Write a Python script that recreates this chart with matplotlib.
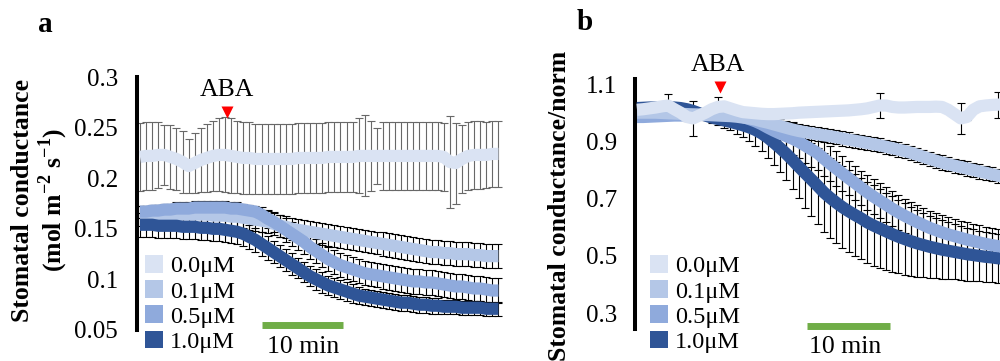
import matplotlib
matplotlib.use('Agg')
import matplotlib.pyplot as plt
import numpy as np
from matplotlib.patches import Patch

plt.rcParams['font.family'] = ['Liberation Serif', 'DejaVu Serif']
plt.rcParams['mathtext.fontset'] = 'custom'
plt.rcParams['mathtext.rm'] = 'Liberation Serif'
plt.rcParams['mathtext.bf'] = 'Liberation Serif:bold'

# ---------------- data ----------------
labels = ['0.0\u03bcM', '0.1\u03bcM', '0.5\u03bcM', '1.0\u03bcM']
colors = ['#DAE3F3', '#B4C7E7', '#8FAADC', '#2F5597']
time_min = np.arange(60) * 0.75   # minutes

# panel a : absolute stomatal conductance (mol m-2 s-1)
a_mean_00 = [.221, .222, .222, .223, .223, .221, .219, .216, .212, .215,
             .218, .220, .222, .223, .223, .222, .221, .220, .220, .219,
             .219, .219, .219, .219, .219, .219, .220, .220, .220, .220,
             .220, .221, .221, .221, .221, .221, .222, .222, .222, .222,
             .222, .222, .222, .222, .222, .222, .222, .222, .222, .222,
             .221, .216, .215, .219, .222, .223, .223, .223, .224, .224]
a_err_00 = [.034, .034, .034, .033, .030, .032, .031, .031, .027, .030,
            .032, .034, .035, .036, .037, .037, .036, .036, .036, .035,
            .035, .035, .035, .035, .035, .035, .035, .035, .035, .035,
            .035, .035, .035, .035, .035, .035, .037, .040, .035, .028,
            .034, .034, .034, .034, .034, .034, .034, .034, .034, .034,
            .034, .045, .040, .034, .034, .034, .034, .033, .033, .033]
a_mean_01 = [.163, .163, .163, .164, .164, .164, .164, .164, .164, .164,
             .164, .164, .163, .163, .163, .162, .162, .161, .160, .159,
             .158, .157, .155, .153, .152, .150, .149, .148, .147, .146,
             .145, .144, .143, .142, .141, .140, .139, .138, .137, .136,
             .135, .134, .133, .132, .131, .130, .129, .128, .127, .127,
             .126, .126, .125, .125, .125, .124, .124, .123, .123, .123]
a_err_01 = [.010, .010, .010, .010, .010, .010, .010, .010, .010, .010,
            .010, .010, .010, .010, .010, .010, .010, .010, .011, .011,
            .011, .011, .011, .011, .011, .011, .011, .011, .011, .011,
            .011, .011, .011, .011, .011, .011, .011, .011, .011, .011,
            .012, .012, .012, .012, .012, .012, .012, .012, .012, .012,
            .012, .012, .012, .012, .012, .012, .012, .012, .012, .012]
a_mean_05 = [.167, .167, .168, .168, .169, .169, .170, .170, .170, .171,
             .171, .171, .171, .171, .171, .170, .170, .169, .168, .167,
             .164, .160, .157, .153, .149, .145, .141, .137, .132, .128,
             .124, .120, .117, .114, .112, .110, .108, .106, .105, .104,
             .103, .102, .101, .100, .099, .098, .098, .097, .097, .096,
             .095, .094, .093, .093, .092, .091, .091, .090, .089, .089]
a_err_05 = [.006, .006, .006, .006, .006, .006, .006, .006, .006, .006,
            .006, .006, .006, .006, .006, .006, .006, .006, .006, .006,
            .008, .009, .010, .011, .012, .012, .012, .012, .012, .012,
            .012, .012, .012, .012, .012, .012, .012, .012, .012, .012,
            .012, .012, .012, .012, .012, .012, .012, .012, .012, .012,
            .012, .012, .012, .012, .012, .012, .012, .012, .012, .012]
a_mean_10 = [.154, .154, .154, .153, .153, .153, .153, .152, .152, .152,
             .151, .151, .150, .150, .149, .148, .147, .145, .142, .139,
             .135, .131, .127, .123, .119, .115, .111, .107, .103, .100,
             .097, .094, .092, .090, .088, .086, .084, .083, .082, .081,
             .080, .079, .078, .077, .077, .076, .075, .075, .074, .074,
             .073, .073, .073, .072, .072, .072, .072, .071, .071, .071]
a_err_10 = [.012, .012, .012, .012, .012, .012, .012, .012, .012, .012,
            .012, .012, .012, .012, .012, .012, .012, .012, .012, .012,
            .012, .012, .011, .011, .011, .011, .010, .010, .010, .010,
            .010, .009, .009, .009, .009, .009, .008, .008, .008, .008,
            .008, .008, .008, .008, .008, .008, .008, .008, .008, .008,
            .007, .007, .007, .007, .007, .007, .007, .007, .007, .007]

# panel b : normalised stomatal conductance
b_mean_00 = [1.010, 1.012, 1.015, 1.018, 1.022, 1.025, 1.012, 1.000, 0.985, 0.980,
             0.990, 1.000, 1.012, 1.020, 1.022, 1.015, 1.008, 1.002, 1.000, 0.998,
             0.996, 0.995, 0.995, 0.996, 0.997, 0.998, 1.000, 1.001, 1.002, 1.003,
             1.004, 1.005, 1.006, 1.007, 1.008, 1.010, 1.012, 1.015, 1.020, 1.025,
             1.025, 1.020, 1.018, 1.018, 1.019, 1.020, 1.020, 1.020, 1.021, 1.020,
             1.010, 0.995, 0.980, 0.985, 1.010, 1.022, 1.025, 1.027, 1.028, 1.030]
b_err_00 = [.008, .008, .008, .008, .010, .040, .010, .010, .015, .060,
            .010, .010, .010, .035, .010, .008, .008, .008, .008, .008,
            .008, .008, .008, .008, .008, .008, .008, .008, .008, .008,
            .008, .008, .008, .008, .008, .008, .008, .008, .010, .045,
            .008, .008, .008, .008, .008, .008, .008, .008, .008, .008,
            .008, .010, .055, .010, .008, .008, .008, .008, .045, .008]
b_mean_01 = [1.000, 1.000, 1.000, 1.000, 0.999, 0.998, 0.997, 0.996, 0.995, 0.994,
             0.993, 0.992, 0.991, 0.990, 0.989, 0.988, 0.986, 0.983, 0.980, 0.976,
             0.970, 0.965, 0.959, 0.953, 0.947, 0.941, 0.936, 0.932, 0.928, 0.925,
             0.921, 0.918, 0.914, 0.910, 0.906, 0.902, 0.898, 0.894, 0.890, 0.886,
             0.881, 0.876, 0.871, 0.866, 0.860, 0.853, 0.846, 0.839, 0.832, 0.826,
             0.820, 0.815, 0.810, 0.805, 0.800, 0.795, 0.790, 0.785, 0.780, 0.775]
b_err_01 = [.008, .008, .008, .008, .008, .008, .008, .008, .008, .008,
            .008, .008, .008, .008, .010, .012, .015, .018, .020, .022,
            .025, .025, .025, .025, .025, .025, .025, .025, .025, .025,
            .025, .025, .025, .025, .025, .025, .025, .025, .025, .025,
            .025, .025, .025, .025, .025, .025, .025, .025, .025, .025,
            .025, .025, .025, .025, .025, .025, .025, .025, .025, .025]
b_mean_05 = [0.985, 0.985, 0.986, 0.987, 0.988, 0.989, 0.990, 0.990, 0.991, 0.992,
             0.993, 0.994, 0.995, 0.995, 0.994, 0.992, 0.989, 0.985, 0.978, 0.970,
             0.960, 0.948, 0.937, 0.927, 0.918, 0.909, 0.898, 0.885, 0.872, 0.859,
             0.840, 0.822, 0.805, 0.788, 0.771, 0.755, 0.738, 0.722, 0.707, 0.693,
             0.679, 0.665, 0.652, 0.640, 0.629, 0.618, 0.608, 0.598, 0.590, 0.582,
             0.575, 0.569, 0.563, 0.557, 0.552, 0.547, 0.542, 0.538, 0.534, 0.531]
b_err_05 = [.010, .010, .010, .010, .010, .010, .010, .010, .010, .010,
            .010, .010, .010, .010, .010, .010, .015, .020, .025, .030,
            .035, .040, .045, .050, .050, .055, .055, .060, .060, .060,
            .060, .060, .060, .060, .060, .060, .060, .060, .060, .060,
            .060, .060, .060, .060, .060, .060, .060, .060, .060, .060,
            .060, .060, .060, .060, .060, .060, .060, .060, .060, .060]
b_mean_10 = [1.016, 1.017, 1.018, 1.018, 1.019, 1.019, 1.018, 1.016, 1.012, 1.006,
             0.998, 0.990, 0.983, 0.978, 0.973, 0.968, 0.962, 0.956, 0.949, 0.940,
             0.928, 0.913, 0.895, 0.876, 0.856, 0.834, 0.811, 0.789, 0.767, 0.745,
             0.722, 0.703, 0.686, 0.670, 0.656, 0.643, 0.631, 0.617, 0.606, 0.596,
             0.586, 0.576, 0.567, 0.559, 0.551, 0.544, 0.538, 0.532, 0.527, 0.522,
             0.518, 0.514, 0.510, 0.506, 0.503, 0.500, 0.497, 0.495, 0.492, 0.490]
b_err_10 = [.012, .012, .012, .012, .012, .012, .012, .012, .012, .012,
            .015, .015, .018, .020, .025, .030, .035, .040, .048, .055,
            .062, .070, .077, .083, .090, .100, .110, .120, .128, .133,
            .137, .140, .142, .143, .143, .143, .142, .141, .140, .138,
            .135, .132, .128, .124, .120, .116, .112, .108, .105, .102,
            .099, .096, .094, .092, .090, .088, .087, .086, .085, .084]

a_ticks = [0.05, 0.1, 0.15, 0.2, 0.25, 0.3]
a_ticklabels = ['0.05', '0.1', '0.15', '0.2', '0.25', '0.3']
b_ticks = [0.3, 0.5, 0.7, 0.9, 1.1]
b_ticklabels = ['0.3', '0.5', '0.7', '0.9', '1.1']

aba_time_a, aba_time_b = 10.8, 10.0
scale_a = (15.06, 25.06)
scale_b = (20.48, 30.48)

# ---------------- figure ----------------
W, H = 1000, 361
fig = plt.figure(figsize=(W / 100, H / 100), dpi=100)


def fx(px):
    return px / W


def fy(py):
    return 1 - py / H


ax_a = fig.add_axes([fx(137), fy(330), fx(505) - fx(137), (330 - 77) / H])
ax_b = fig.add_axes([fx(635), fy(329), fx(1000) - fx(635), (329 - 79) / H])

LW = 8.8
TICK_FS = 18
for ax in (ax_a, ax_b):
    for s in ('top', 'right', 'bottom'):
        ax.spines[s].set_visible(False)
    ax.spines['left'].set_linewidth(2.9)
    ax.spines['left'].set_color('black')
    ax.xaxis.set_visible(False)
    ax.patch.set_alpha(0)
    ax.tick_params(axis='y', length=0, labelsize=TICK_FS)

# ---- panel a ----
means_a = [a_mean_00, a_mean_01, a_mean_05, a_mean_10]
errs_a = [a_err_00, a_err_01, a_err_05, a_err_10]
ecol_a = ['#686868', 'black', 'black', 'black']
for i in range(4):
    ax_a.errorbar(time_min, means_a[i], yerr=errs_a[i], fmt='none',
                  ecolor=ecol_a[i], elinewidth=0.8, capsize=2.8,
                  capthick=0.8, zorder=2)
for i in range(4):
    ax_a.plot(time_min, means_a[i], color=colors[i], lw=LW,
              solid_capstyle='butt', zorder=3 + i)
ax_a.set_xlim(-0.37, 45.06)
ax_a.set_ylim(0.05, 0.3)
ax_a.set_yticks(a_ticks)
ax_a.set_yticklabels(a_ticklabels)
ax_a.tick_params(axis='y', pad=13.7)

# ---- panel b ----
means_b = [b_mean_00, b_mean_01, b_mean_05, b_mean_10]
errs_b = [b_err_00, b_err_01, b_err_05, b_err_10]
for i in range(4):
    ax_b.errorbar(time_min, means_b[i], yerr=errs_b[i], fmt='none',
                  ecolor='black', elinewidth=0.8, capsize=2.8,
                  capthick=0.8, zorder=2)
for i in range(4):
    ax_b.plot(time_min, means_b[i], color=colors[i], lw=LW,
              solid_capstyle='butt', zorder=10 - i)
ax_b.set_xlim(-0.24, 43.73)
ax_b.set_ylim(0.245, 1.1175)
ax_b.set_yticks(b_ticks)
ax_b.set_yticklabels(b_ticklabels)
ax_b.tick_params(axis='y', pad=13)

# ---- ABA markers ----
ax_a.plot([aba_time_a], [0.2654], marker='v', color='#FF0000', ms=9,
          mec='none', clip_on=False, zorder=20)
ax_b.plot([aba_time_b], [1.091], marker='v', color='#FF0000', ms=9,
          mec='none', clip_on=False, zorder=20)
fig.text(fx(227), fy(89.5), 'ABA', fontsize=18.5, ha='center', va='center')
fig.text(fx(718), fy(65), 'ABA', fontsize=18.5, ha='center', va='center')

# ---- scale bars ----
ax_a.plot(scale_a, [0.0554, 0.0554], color='#70AD47', lw=5,
          solid_capstyle='butt', clip_on=False, zorder=20)
ax_b.plot(scale_b, [0.257, 0.257], color='#70AD47', lw=5,
          solid_capstyle='butt', clip_on=False, zorder=20)
fig.text(fx(303.5), fy(347), '10 min', fontsize=18.5, ha='center', va='center')
fig.text(fx(845), fy(347), '10 min', fontsize=18.5, ha='center', va='center')

# ---- legends ----
LEG_FS = 17.5
for ax, x0 in ((ax_a, 145), (ax_b, 650)):
    handles = [Patch(facecolor=c, edgecolor='none') for c in colors]
    leg = ax.legend(handles, labels, loc='upper left',
                    bbox_to_anchor=(fx(x0), fy(255)),
                    bbox_transform=fig.transFigure, frameon=False,
                    fontsize=LEG_FS, handlelength=0.74, handleheight=0.74,
                    handletextpad=0.28, labelspacing=0.12, borderpad=0,
                    borderaxespad=0)
    leg.set_zorder(30)

# ---- labels ----
fig.text(fx(45), fy(25), 'a', fontsize=21, fontweight='bold',
         ha='center', va='center')
fig.text(fx(585), fy(23), 'b', fontsize=21, fontweight='bold',
         ha='center', va='center')
fig.text(fx(23), fy(200.5), 'Stomatal conductance', fontsize=18.5,
         fontweight='bold', rotation=90, ha='center', va='center')
fig.text(fx(53), fy(200), r'(mol m$^{\mathbf{-2}}$ s$^{\mathbf{-1}}$)',
         fontsize=18.5, fontweight='bold', rotation=90, ha='center', va='center')
fig.text(fx(559), fy(206), 'Stomatal conductance/norm', fontsize=18.5,
         fontweight='bold', rotation=90, ha='center', va='center')

fig.savefig('out.png', dpi=100)
